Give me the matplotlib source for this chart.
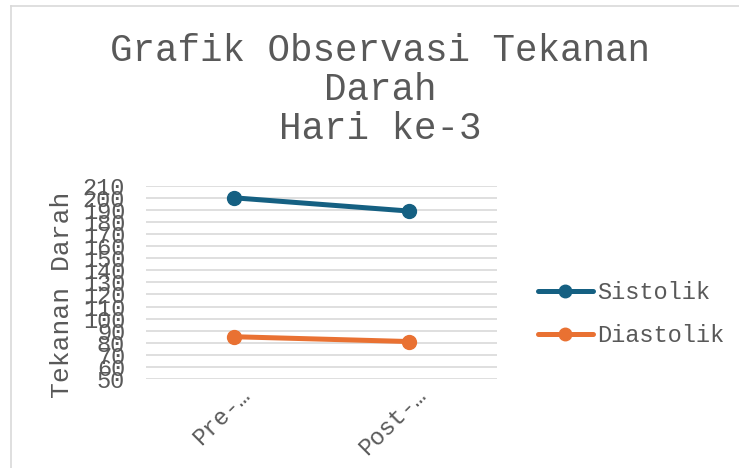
import matplotlib.pyplot as plt
from matplotlib.lines import Line2D
import matplotlib.transforms as mtransforms
import numpy as np

# data
kategori = ["Pre-…", "Post-…"]
sistolik = [200, 189]
diastolik = [85, 81]
y_ticks = list(range(50, 211, 10))

warna_sis = "#156082"
warna_dia = "#E97132"
teks = "#595959"
font = "Liberation Mono"

plt.rcParams['font.family'] = font

fig = plt.figure(figsize=(7.39, 4.68), dpi=100)
W, H = 739, 468
ax = fig.add_axes([146/W, 1-379/H, 351/W, 193.3/H])

x = np.arange(len(kategori))
ax.plot(x, sistolik, color=warna_sis, lw=3.6, marker='o', markersize=10, label="Sistolik", solid_capstyle='round')
ax.plot(x, diastolik, color=warna_dia, lw=3.6, marker='o', markersize=10, label="Diastolik", solid_capstyle='round')

ax.set_xlim(-0.5, 1.5)
ax.set_ylim(50, 210)
ax.set_yticks(y_ticks)
ax.set_yticklabels([str(v) for v in y_ticks], fontsize=17, color=teks)
ax.set_xticks(x)
ax.set_xticklabels(kategori, fontsize=17, color=teks)
ax.grid(axis='y', color='#d9d9d9', lw=1.2)
ax.set_axisbelow(True)
for s in ax.spines.values():
    s.set_visible(False)
ax.tick_params(axis='both', length=0)
ax.tick_params(axis='y', pad=15)

offset = mtransforms.ScaledTranslation(13/100, -8/100, fig.dpi_scale_trans)
for lbl in ax.get_xticklabels():
    lbl.set_rotation(45)
    lbl.set_ha('right')
    lbl.set_va('center')
    lbl.set_rotation_mode('anchor')
    lbl.set_transform(lbl.get_transform() + offset)

ax.set_ylabel("Tekanan Darah", fontsize=19, color=teks)
ax.yaxis.set_label_coords(-0.205, 0.435)

fig.suptitle("Grafik Observasi Tekanan\nDarah\nHari ke-3", x=380/W, y=1-90/H,
             va='center', ha='center', fontsize=27, color=teks, linespacing=1.12)

leg = ax.legend(loc='center left', bbox_to_anchor=(517/W, 1-314/H), bbox_transform=fig.transFigure,
                frameon=False, fontsize=17, handlelength=2.3, handletextpad=0.2,
                labelspacing=0.85, markerscale=0.9)
for t in leg.get_texts():
    t.set_color(teks)

# bingkai grafik
fig.add_artist(Line2D([11/W, 11/W], [0, 1-6/H], color='#d9d9d9', lw=1.2))
fig.add_artist(Line2D([11/W, 1], [1-6/H, 1-6/H], color='#d9d9d9', lw=1.2))

fig.savefig("out.png", dpi=100)
